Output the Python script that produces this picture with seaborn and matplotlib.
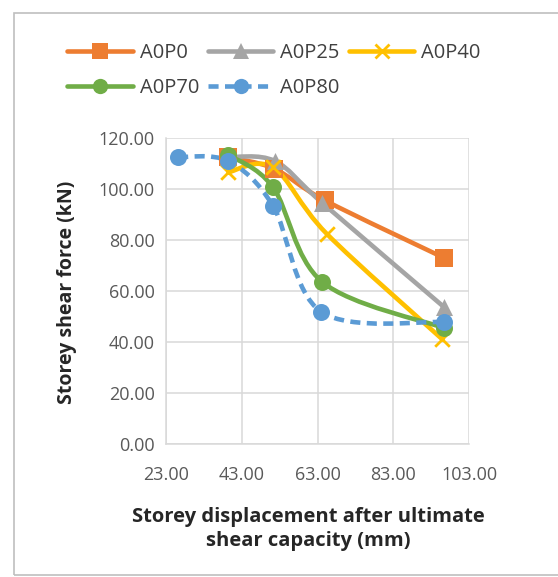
import numpy as np
import pandas as pd
import seaborn as sns
import matplotlib.pyplot as plt
from matplotlib.path import Path
from matplotlib.patches import PathPatch, Rectangle
from matplotlib.lines import Line2D

# Storey displacement (mm) and storey shear force (kN) for each specimen
x_a0p0 = [39.3, 51.5, 65.0, 96.4]
y_a0p0 = [112.5, 108.0, 95.5, 73.0]

x_a0p25 = [39.3, 51.7, 64.3, 96.4]
y_a0p25 = [112.5, 111.0, 94.5, 53.7]

x_a0p40 = [39.3, 51.2, 65.4, 96.0]
y_a0p40 = [106.5, 108.5, 82.5, 41.0]

x_a0p70 = [39.3, 51.2, 64.3, 96.4]
y_a0p70 = [113.5, 100.8, 63.5, 45.5]

x_a0p80 = [26.2, 39.3, 51.2, 64.0, 96.4]
y_a0p80 = [112.5, 111.0, 93.5, 51.8, 47.8]

series_names = ["A0P0", "A0P25", "A0P40", "A0P70", "A0P80"]
series_x = [x_a0p0, x_a0p25, x_a0p40, x_a0p70, x_a0p80]
series_y = [y_a0p0, y_a0p25, y_a0p40, y_a0p70, y_a0p80]
colors = ["#ED7D31", "#A5A5A5", "#FFC000", "#70AD47", "#5B9BD5"]
markers = ["s", "^", "x", "o", "o"]
dashes = ["-", "-", "-", "-", (0, (2.2, 1.4))]

x_ticks = [23, 43, 63, 83, 103]
y_ticks = [0, 20, 40, 60, 80, 100, 120]

sns.set_theme(style="white")
plt.rcParams["font.family"] = ["Open Sans", "DejaVu Sans"]

fig = plt.figure(figsize=(5.58, 5.77), dpi=100)
ax = fig.add_axes([166 / 558, 1 - 444 / 577, 303 / 558, 306 / 577])

# outer chart frame (runs past the right edge)
fig.add_artist(Rectangle((14 / 558, 2 / 577), 600 / 558, 562 / 577,
                         transform=fig.transFigure, fill=False,
                         edgecolor="#BFBFBF", linewidth=1.2))


def smooth_path(xs, ys, tension=1 / 6):
    """Bezier path through the points, in the style of smoothed spreadsheet lines."""
    pts = np.column_stack([xs, ys]).astype(float)
    n = len(pts)
    verts = [pts[0]]
    codes = [Path.MOVETO]
    for i in range(n - 1):
        p0 = pts[i - 1] if i > 0 else pts[i]
        p1 = pts[i]
        p2 = pts[i + 1]
        p3 = pts[i + 2] if i + 2 < n else pts[i + 1]
        c1 = p1 + (p2 - p0) * tension
        c2 = p2 - (p3 - p1) * tension
        verts += [c1, c2, p2]
        codes += [Path.CURVE4] * 3
    return Path(verts, codes)


frames = []
for name, xs, ys in zip(series_names, series_x, series_y):
    frames.append(pd.DataFrame({"series": name, "disp": xs, "force": ys}))
df = pd.concat(frames, ignore_index=True)

for name, color, mk, ls in zip(series_names, colors, markers, dashes):
    sub = df[df["series"] == name]
    ax.add_patch(PathPatch(smooth_path(sub["disp"].values, sub["force"].values),
                           facecolor="none", edgecolor=color, linewidth=3.3,
                           linestyle=ls, capstyle="butt", zorder=3))
    sns.scatterplot(data=sub, x="disp", y="force", ax=ax, color=color,
                    marker=mk, s=150 if mk != "x" else 110,
                    linewidth=2 if mk == "x" else 0, edgecolor=color,
                    zorder=4, legend=False)

ax.set_xlim(23, 103)
ax.set_ylim(0, 120)
ax.set_xticks(x_ticks)
ax.set_yticks(y_ticks)
ax.set_xticklabels([f"{v:.2f}" for v in x_ticks])
ax.set_yticklabels([f"{v:.2f}" for v in y_ticks])
ax.tick_params(axis="both", labelsize=13, colors="#595959", length=0, pad=8)
ax.tick_params(axis="x", pad=16)
ax.grid(True, color="#D9D9D9", linewidth=1.1)
for side in ["top", "right"]:
    ax.spines[side].set_visible(False)
for side in ["left", "bottom"]:
    ax.spines[side].set_color("#D9D9D9")
    ax.spines[side].set_linewidth(1.1)

ax.set_xlabel("")
ax.set_ylabel("")
fig.text(67 / 558, 1 - 292 / 577, "Storey shear force (kN)", rotation=90,
         ha="center", va="center", fontsize=14, fontweight="bold", color="#262626")
fig.text(308 / 558, 1 - 529 / 577, "Storey displacement after ultimate\nshear capacity (mm)",
         ha="center", va="center", fontsize=14.5, fontweight="bold", color="#262626",
         linespacing=1.3)

# legend rows read A0P0, A0P25, A0P40 / A0P70, A0P80
order = [0, 3, 1, 4, 2]
handles = [Line2D([0], [0], color=colors[i], marker=markers[i], linestyle=dashes[i],
                  linewidth=3.3, markersize=11 if markers[i] != "x" else 10,
                  markeredgewidth=2 if markers[i] == "x" else 0) for i in order]
labels = [series_names[i] for i in order]
fig.legend(handles, labels, loc="upper left",
           bbox_to_anchor=(59 / 558, 1 - 35 / 577), ncol=3, frameon=False,
           fontsize=14.5, handlelength=3.25, handletextpad=0.35, columnspacing=0.45,
           labelcolor="#404040", borderaxespad=0, labelspacing=0.75)

fig.savefig("out.png", dpi=100)
